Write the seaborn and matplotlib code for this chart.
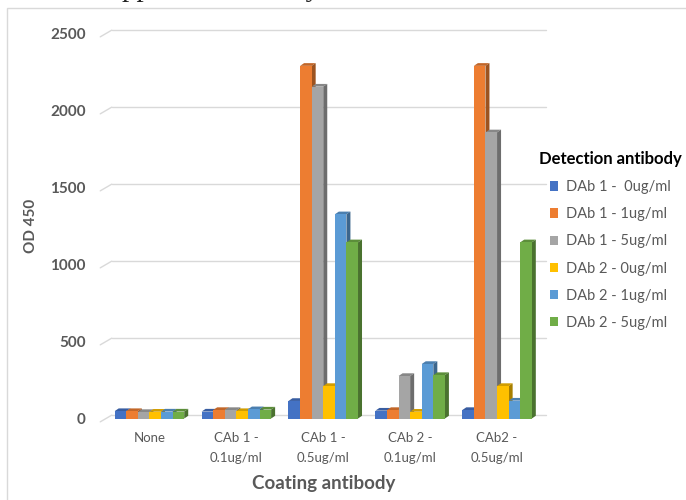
import numpy as np
import pandas as pd
import matplotlib
matplotlib.use("Agg")
import matplotlib.pyplot as plt
from matplotlib.patches import Polygon, Rectangle
from matplotlib.colors import to_rgb
import seaborn as sns

# ---- data ---------------------------------------------------------------
categories = ["None", "CAb 1 -\n0.1ug/ml", "CAb 1 -\n0.5ug/ml",
              "CAb 2 -\n0.1ug/ml", "CAb2 -\n0.5ug/ml"]
series = ["DAb 1 -  0ug/ml", "DAb 1 - 1ug/ml", "DAb 1 - 5ug/ml",
          "DAb 2 - 0ug/ml", "DAb 2 - 1ug/ml", "DAb 2 - 5ug/ml"]
dab1_0 = [48, 45, 114, 51, 55]
dab1_1 = [48, 55, 2290, 55, 2290]
dab1_5 = [42, 55, 2155, 276, 1858]
dab2_0 = [44, 48, 211, 44, 211]
dab2_1 = [45, 60, 1326, 354, 116]
dab2_5 = [45, 58, 1144, 282, 1144]
yticks = [0, 500, 1000, 1500, 2000, 2500]
colors = ["#4472C4", "#ED7D31", "#A5A5A5", "#FFC000", "#5B9BD5", "#70AD47"]

values = [dab1_0, dab1_1, dab1_5, dab2_0, dab2_1, dab2_5]
df = pd.DataFrame(
    [(c, s, v) for s, vals in zip(series, values) for c, v in zip(categories, vals)],
    columns=["coating", "detection", "od"],
)

# ---- style ----------------------------------------------------------------
sns.set_style("white")
plt.rcParams["font.family"] = ["Lato", "DejaVu Sans"]
GREY = "#595959"
GRID = "#D9D9D9"

W, H = 686, 500
fig = plt.figure(figsize=(W / 100, H / 100), dpi=100)

# outer chart frame
fig.patches.append(Rectangle((7 / W, -0.05), 1.2, 1 - 8 / H + 0.05,
                             transform=fig.transFigure, fill=False,
                             edgecolor=GRID, linewidth=1.0))

# line of document text sitting just above the chart
fig.text(96 / W, 1 + 4 / H, "supplied in bulk by", family=["Liberation Serif"],
         fontsize=21, color="#222222", ha="left", va="baseline")

ax_left, ax_right = 106, 540.5
ax_bottom, ax_top = 418.5, 33.5
ax = fig.add_axes([ax_left / W, 1 - ax_bottom / H,
                   (ax_right - ax_left) / W, (ax_bottom - ax_top) / H])

sns.barplot(data=df, x="coating", y="od", hue="detection", palette=colors,
            order=categories, hue_order=series, width=0.8, saturation=1,
            linewidth=0, ax=ax)
ax.set_xlim(-0.5, 4.5)
ax.set_ylim(0, 2500)

# pixel -> data scale
sx = (ax_right - ax_left) / 5.0
sy = (ax_bottom - ax_top) / 2500.0

# back wall gridlines with perspective stubs
wdx, wdy = 5.75 / sx, 3.35 / sy
for v in yticks:
    ax.plot([-0.5 + wdx, 4.5 + wdx], [v + wdy, v + wdy], color=GRID, lw=1,
            zorder=0.5, clip_on=False)
    ax.plot([-0.5 - wdx, -0.5 + wdx], [v - wdy, v + wdy], color=GRID, lw=1,
            zorder=0.5, clip_on=False)

# extrude each bar: top and right side faces
bdx, bdy = 4.0 / sx, 2.7 / sy
bars = []
for j, cont in enumerate(ax.containers):
    for rect in cont:
        bars.append((rect.get_x(), rect, colors[j]))
bars.sort(key=lambda b: b[0])
for k, (_, rect, col) in enumerate(bars):
    z = 2 + k * 0.01
    x, w, h = rect.get_x(), rect.get_width(), rect.get_height()
    rgb = np.array(to_rgb(col))
    top = Polygon([(x, h), (x + w, h), (x + w + bdx, h + bdy), (x + bdx, h + bdy)],
                  closed=True, facecolor=rgb * 0.82, edgecolor="none",
                  zorder=z, clip_on=False)
    side = Polygon([(x + w, 0), (x + w + bdx, bdy), (x + w + bdx, h + bdy), (x + w, h)],
                   closed=True, facecolor=rgb * 0.66, edgecolor="none",
                   zorder=z, clip_on=False)
    ax.add_patch(top)
    ax.add_patch(side)
    rect.set_zorder(z + 0.005)
    rect.set_clip_on(False)

# axes cosmetics
sns.despine(ax=ax, left=True, bottom=True, top=True, right=True)
ax.grid(False)
ax.set_yticks(yticks)
ax.set_yticklabels([str(t) for t in yticks], fontsize=11, fontweight="bold",
                   color=GREY)
ax.tick_params(axis="y", length=0, pad=14.5)
ax.tick_params(axis="x", length=0, pad=10)
for lab in ax.get_xticklabels():
    lab.set_fontsize(9.5)
    lab.set_color(GREY)
    lab.set_linespacing(1.75)
ax.set_xlabel("Coating antibody", fontsize=13.5, fontweight="bold",
              color=GREY, labelpad=8)
ax.set_ylabel("OD 450", fontsize=11, fontweight="bold", color=GREY,
              labelpad=9)

# legend
handles, labels = ax.get_legend_handles_labels()
ax.legend_.remove()
leg = fig.legend(handles, labels, title="Detection antibody",
                 loc="upper left", bbox_to_anchor=(539 / W, 1 - 151 / H),
                 frameon=False, fontsize=10.5, title_fontsize=12,
                 handlelength=0.6, handleheight=0.6, handletextpad=0.55,
                 labelspacing=0.9, borderpad=0, borderaxespad=0,
                 alignment="center")
leg.get_title().set_fontweight("bold")
leg.get_title().set_color("black")
for t in leg.get_texts():
    t.set_color(GREY)

fig.savefig("out.png", dpi=100)
